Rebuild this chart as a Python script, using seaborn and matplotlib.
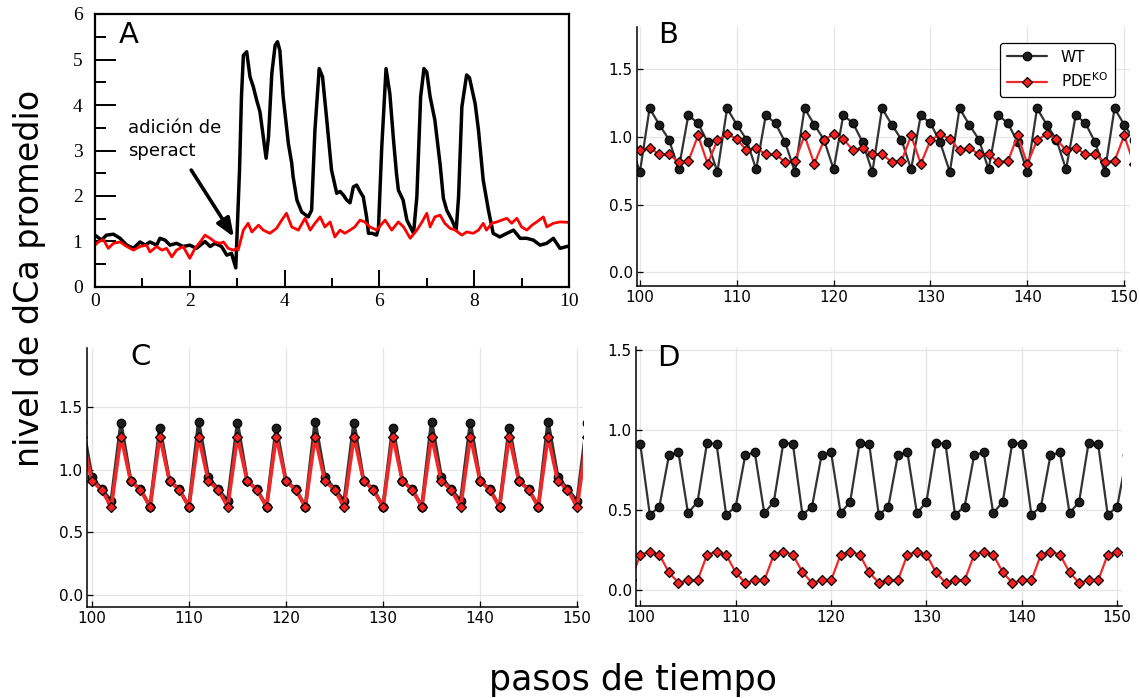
import matplotlib
matplotlib.use("Agg")
import matplotlib.pyplot as plt
import seaborn as sns
import numpy as np

# ---- Panel A: averaged calcium traces after speract addition ----
t_wt = [0.00, 0.14, 0.24, 0.39, 0.53, 0.67, 0.81, 0.95, 1.06, 1.16, 1.30, 1.37,
        1.48, 1.58, 1.72, 1.86, 2.00, 2.14, 2.32, 2.43, 2.53, 2.67, 2.78, 2.88,
        2.97, 3.05, 3.09, 3.13, 3.20, 3.27, 3.34, 3.41, 3.48, 3.55, 3.61, 3.66,
        3.73, 3.80, 3.85, 3.90, 3.97, 4.08, 4.15, 4.18, 4.26, 4.36, 4.50, 4.57,
        4.64, 4.73, 4.80, 4.89, 4.99, 5.10, 5.17, 5.24, 5.31, 5.38, 5.45, 5.52,
        5.59, 5.66, 5.73, 5.77, 5.85, 5.94, 5.98, 6.05, 6.14, 6.22, 6.30, 6.36,
        6.40, 6.50, 6.58, 6.72, 6.79, 6.87, 6.94, 7.00, 7.07, 7.17, 7.28, 7.35,
        7.42, 7.53, 7.62, 7.67, 7.74, 7.84, 7.90, 8.02, 8.09, 8.19, 8.30, 8.40,
        8.54, 8.69, 8.83, 8.97, 9.11, 9.25, 9.39, 9.53, 9.67, 9.81, 9.92, 10.00]
ca_wt = [1.14, 1.03, 1.14, 1.16, 1.07, 0.92, 0.85, 0.99, 0.92, 0.99, 0.92, 1.07,
         1.03, 0.92, 0.96, 0.89, 0.92, 0.85, 1.00, 0.89, 0.96, 0.89, 0.70, 0.74,
         0.42, 2.60, 4.18, 5.09, 5.17, 4.62, 4.40, 4.11, 3.85, 3.30, 2.83, 3.30,
         4.69, 5.31, 5.39, 5.20, 4.18, 3.15, 2.72, 2.42, 1.91, 1.65, 1.54, 1.69,
         3.45, 4.80, 4.62, 3.67, 2.57, 2.06, 2.10, 2.02, 1.91, 1.85, 2.20, 2.24,
         2.10, 1.98, 1.54, 1.18, 1.18, 1.14, 1.29, 3.08, 4.80, 4.25, 3.20, 2.50,
         2.13, 1.91, 1.47, 1.18, 1.98, 4.18, 4.80, 4.72, 4.18, 3.67, 2.70, 1.95,
         1.69, 1.47, 1.25, 1.98, 3.96, 4.66, 4.60, 4.03, 3.45, 2.35, 1.69, 1.18,
         1.10, 1.18, 1.25, 1.07, 1.07, 1.03, 0.92, 0.96, 1.07, 0.85, 0.88, 0.90]

t_ko = [0.00, 0.07, 0.18, 0.28, 0.39, 0.53, 0.67, 0.81, 0.95, 1.09, 1.16, 1.30,
        1.41, 1.51, 1.62, 1.72, 1.86, 2.00, 2.11, 2.22, 2.32, 2.43, 2.53, 2.64,
        2.71, 2.81, 2.92, 2.99, 3.02, 3.13, 3.23, 3.31, 3.45, 3.55, 3.69, 3.83,
        3.94, 4.04, 4.15, 4.29, 4.43, 4.54, 4.64, 4.75, 4.85, 4.96, 5.06, 5.17,
        5.27, 5.38, 5.48, 5.59, 5.69, 5.80, 5.94, 6.12, 6.26, 6.40, 6.51, 6.65,
        6.79, 6.90, 7.00, 7.07, 7.17, 7.28, 7.38, 7.49, 7.60, 7.74, 7.84, 7.98,
        8.09, 8.19, 8.26, 8.37, 8.48, 8.58, 8.69, 8.79, 8.90, 9.00, 9.11, 9.22,
        9.32, 9.46, 9.53, 9.67, 9.81, 10.00]
ca_ko = [0.92, 0.99, 1.04, 0.85, 0.96, 0.99, 0.89, 0.81, 0.89, 0.92, 0.77, 0.89,
         0.81, 0.85, 0.66, 0.81, 0.89, 0.63, 0.85, 0.99, 1.14, 1.07, 0.99, 0.96,
         0.99, 0.85, 0.81, 0.85, 0.81, 1.25, 1.40, 1.21, 1.36, 1.25, 1.18, 1.29,
         1.47, 1.62, 1.32, 1.25, 1.51, 1.25, 1.40, 1.54, 1.32, 1.43, 1.10, 1.25,
         1.18, 1.25, 1.32, 1.47, 1.43, 1.32, 1.25, 1.47, 1.25, 1.43, 1.32, 1.07,
         1.25, 1.43, 1.62, 1.32, 1.54, 1.58, 1.40, 1.29, 1.25, 1.14, 1.21, 1.18,
         1.25, 1.40, 1.25, 1.40, 1.43, 1.47, 1.51, 1.40, 1.51, 1.32, 1.25, 1.36,
         1.43, 1.54, 1.32, 1.40, 1.43, 1.42]

# ---- Panels B-D: simulated mean dCa per time step ----
steps = list(range(99, 152))

b_wt = [0.96, 0.74, 1.21, 1.09, 0.98, 0.76, 1.16, 1.10, 0.96, 0.74, 1.21, 1.09,
        0.98, 0.76, 1.16, 1.10, 0.96, 0.74, 1.21, 1.09, 0.98, 0.76, 1.16, 1.10,
        0.96, 0.74, 1.21, 1.09, 0.98, 0.76, 1.16, 1.10, 0.96, 0.74, 1.21, 1.09,
        0.98, 0.76, 1.16, 1.10, 0.96, 0.74, 1.21, 1.09, 0.98, 0.76, 1.16, 1.10,
        0.96, 0.74, 1.21, 1.09, 0.98]
b_ko = [0.98, 0.90, 0.92, 0.87, 0.87, 0.815, 0.82, 1.01, 0.80, 0.975, 1.02, 0.985,
        0.90, 0.92, 0.87, 0.87, 0.815, 0.82, 1.01, 0.80, 0.975, 1.02, 0.985,
        0.90, 0.92, 0.87, 0.87, 0.815, 0.82, 1.01, 0.80, 0.975, 1.02, 0.985,
        0.90, 0.92, 0.87, 0.87, 0.815, 0.82, 1.01, 0.80, 0.975, 1.02, 0.985,
        0.90, 0.92, 0.87, 0.87, 0.815, 0.82, 1.01, 0.80]

c_wt = [1.38, 0.94, 0.845, 0.75, 1.37, 0.91, 0.845, 0.705, 1.335, 0.91, 0.845, 0.705,
        1.38, 0.94, 0.845, 0.75, 1.37, 0.91, 0.845, 0.705, 1.335, 0.91, 0.845, 0.705,
        1.38, 0.94, 0.845, 0.75, 1.37, 0.91, 0.845, 0.705, 1.335, 0.91, 0.845, 0.705,
        1.38, 0.94, 0.845, 0.75, 1.37, 0.91, 0.845, 0.705, 1.335, 0.91, 0.845, 0.705,
        1.38, 0.94, 0.845, 0.75, 1.37]
c_ko = [1.265, 0.91, 0.84, 0.705, 1.265, 0.91, 0.84, 0.705, 1.265, 0.91, 0.84, 0.705,
        1.265, 0.91, 0.84, 0.705, 1.265, 0.91, 0.84, 0.705, 1.265, 0.91, 0.84, 0.705,
        1.265, 0.91, 0.84, 0.705, 1.265, 0.91, 0.84, 0.705, 1.265, 0.91, 0.84, 0.705,
        1.265, 0.91, 0.84, 0.705, 1.265, 0.91, 0.84, 0.705, 1.265, 0.91, 0.84, 0.705,
        1.265, 0.91, 0.84, 0.705, 1.265]

d_wt = [0.92, 0.91, 0.47, 0.52, 0.84, 0.86, 0.48, 0.55, 0.92, 0.91, 0.47, 0.52,
        0.84, 0.86, 0.48, 0.55, 0.92, 0.91, 0.47, 0.52, 0.84, 0.86, 0.48, 0.55,
        0.92, 0.91, 0.47, 0.52, 0.84, 0.86, 0.48, 0.55, 0.92, 0.91, 0.47, 0.52,
        0.84, 0.86, 0.48, 0.55, 0.92, 0.91, 0.47, 0.52, 0.84, 0.86, 0.48, 0.55,
        0.92, 0.91, 0.47, 0.52, 0.84]
d_ko = [0.06, 0.22, 0.24, 0.22, 0.11, 0.045, 0.06, 0.06, 0.22, 0.24, 0.22, 0.11,
        0.045, 0.06, 0.06, 0.22, 0.24, 0.22, 0.11, 0.045, 0.06, 0.06, 0.22, 0.24,
        0.22, 0.11, 0.045, 0.06, 0.06, 0.22, 0.24, 0.22, 0.11, 0.045, 0.06, 0.06,
        0.22, 0.24, 0.22, 0.11, 0.045, 0.06, 0.06, 0.22, 0.24, 0.22, 0.11, 0.045,
        0.06, 0.06, 0.22, 0.24, 0.22]

series_labels = ["WT", "PDE$^{\\rm KO}$"]
panel_letters = ["A", "B", "C", "D"]

sns.set_style("white")
plt.rcParams["font.family"] = ["DejaVu Sans"]
plt.rcParams["text.color"] = "black"
plt.rcParams["axes.labelcolor"] = "black"
plt.rcParams["xtick.color"] = "black"
plt.rcParams["ytick.color"] = "black"

W, H = 1140, 698
fig = plt.figure(figsize=(W / 100, H / 100), dpi=100)


def px_axes(left, top, right, bottom):
    return fig.add_axes([left / W, 1 - bottom / H, (right - left) / W, (bottom - top) / H])


WT_LINE = "#333333"
WT_FILL = "#1c1c1c"
KO_LINE = "#f02828"
KO_FILL = "#fa2020"

# ---------------- Panel A ----------------
axA = px_axes(95, 14, 569, 287)
sns.lineplot(x=t_wt, y=ca_wt, ax=axA, color="black", linewidth=2.5, sort=False)
sns.lineplot(x=t_ko, y=ca_ko, ax=axA, color="#ff0000", linewidth=2.0, sort=False)
axA.set_xlim(0, 10)
axA.set_ylim(0, 6)
for s in axA.spines.values():
    s.set_visible(True)
    s.set_color("black")
    s.set_linewidth(1.6)
axA.set_xticks([0, 2, 4, 6, 8, 10])
axA.set_xticks([1, 3, 5, 7, 9], minor=True)
axA.set_yticks([0, 1, 2, 3, 4, 5, 6])
axA.set_yticks([0.5, 1.5, 2.5, 3.5, 4.5, 5.5], minor=True)
axA.tick_params(axis="x", which="major", direction="in", length=12, width=1.4,
                bottom=True, top=False, pad=4, colors="black")
axA.tick_params(axis="x", which="minor", direction="in", length=6.5, width=1.4,
                bottom=True, top=False, colors="black")
axA.tick_params(axis="y", which="major", direction="in", length=15, width=1.4,
                left=True, right=False, pad=9, colors="black")
axA.tick_params(axis="y", which="minor", direction="in", length=8, width=1.4,
                left=True, right=False, colors="black")
for lab in axA.get_xticklabels() + axA.get_yticklabels():
    lab.set_fontfamily("Liberation Serif")
    lab.set_fontsize(14)
axA.grid(False)
axA.annotate("", xy=(2.93, 1.10), xytext=(2.03, 2.57),
             arrowprops=dict(arrowstyle="-|>,head_length=0.5,head_width=0.2",
                             color="black", lw=2.6, mutation_scale=22,
                             shrinkA=0, shrinkB=0))
axA.text(0.70, 3.24, "adición de\nsperact", fontsize=13, ha="left", va="center",
         linespacing=1.35, color="black")
axA.text(0.072, 0.923, panel_letters[0], transform=axA.transAxes, fontsize=21,
         ha="center", va="center", color="black")


# ---------------- Panels B-D ----------------
def sim_panel(ax, wt, ko, xlim, ylim, spine_end, lw, letter, letter_pos):
    sns.lineplot(x=steps, y=wt, ax=ax, color=WT_LINE, linewidth=lw, marker="o",
                 markersize=6.2, markerfacecolor=WT_FILL, markeredgecolor="black",
                 markeredgewidth=0.8, label=series_labels[0], legend=False)
    sns.lineplot(x=steps, y=ko, ax=ax, color=KO_LINE, linewidth=lw, marker="D",
                 markersize=5.6, markerfacecolor=KO_FILL, markeredgecolor="black",
                 markeredgewidth=0.9, label=series_labels[1], legend=False)
    ax.set_xlim(*xlim)
    ax.set_ylim(*ylim)
    ax.set_xticks([100, 110, 120, 130, 140, 150])
    ax.set_yticks([0.0, 0.5, 1.0, 1.5])
    ax.set_yticklabels(["0.0", "0.5", "1.0", "1.5"])
    ax.grid(True, color="#e6e6e6", linewidth=0.9)
    ax.set_axisbelow(True)
    for side in ("top", "right"):
        ax.spines[side].set_visible(False)
    for side in ("left", "bottom"):
        ax.spines[side].set_visible(True)
        ax.spines[side].set_color("black")
        ax.spines[side].set_linewidth(1.1)
    ax.spines["bottom"].set_bounds(xlim[0], spine_end)
    ax.tick_params(axis="both", direction="in", length=4, width=0.9,
                   labelsize=11, colors="black", pad=3,
                   left=True, bottom=True)
    ax.text(letter_pos[0], letter_pos[1], letter, transform=ax.transAxes,
            fontsize=21, ha="center", va="center", color="black")


axB = px_axes(637, 27, 1130, 286)
sim_panel(axB, b_wt, b_ko, (99.7, 150.6), (-0.1, 1.81), 150.05, 1.6,
          panel_letters[1], (0.063, 0.969))
leg = axB.legend(loc="upper right", bbox_to_anchor=(0.985, 0.968), fontsize=11,
                 frameon=True, fancybox=True, framealpha=1, edgecolor="black",
                 handlelength=2.6, borderpad=0.45, labelspacing=0.45,
                 handletextpad=0.9)
leg.get_frame().set_linewidth(0.9)
for txt in leg.get_texts():
    txt.set_color("black")

axC = px_axes(87, 348, 583, 607)
sim_panel(axC, c_wt, c_ko, (99.5, 150.6), (-0.096, 1.972), 150.05, 2.6,
          panel_letters[2], (0.107, 0.965))

axD = px_axes(636, 347, 1122, 606)
sim_panel(axD, d_wt, d_ko, (99.55, 150.5), (-0.1, 1.517), 150.5, 1.6,
          panel_letters[3], (0.066, 0.958))

fig.text(30 / W, 1 - 278 / H, "nivel de dCa promedio", rotation=90,
         fontsize=24, ha="center", va="center", color="black")
fig.text(633 / W, 1 - 680 / H, "pasos de tiempo", fontsize=25,
         ha="center", va="center", color="black")

fig.savefig("out.png", dpi=100)
